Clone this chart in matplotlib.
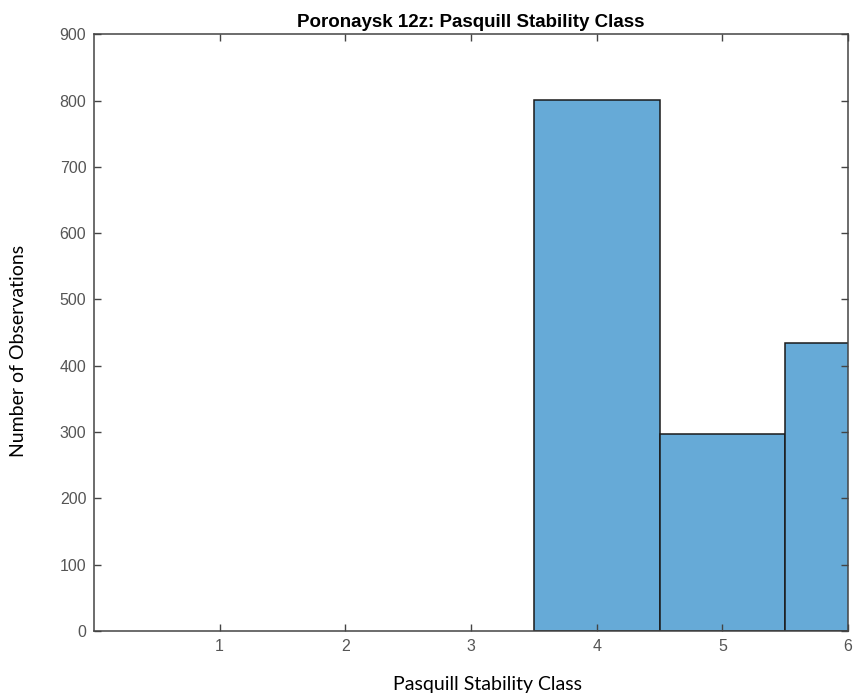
import numpy as np
import matplotlib as mpl
import matplotlib.pyplot as plt

mpl.rcParams.update({
    "font.family": ["Liberation Sans", "DejaVu Sans"],
    "xtick.direction": "in",
    "ytick.direction": "in",
    "xtick.top": True,
    "ytick.right": True,
})

# class counts
classes = [1, 2, 3, 4, 5, 6]
counts = [0, 0, 0, 801, 297, 434]
yticks = [0, 100, 200, 300, 400, 500, 600, 700, 800, 900]

fig = plt.figure(figsize=(8.54, 6.98), dpi=100)
ax = fig.add_axes([0.110, 0.096, 0.883, 0.855])

# skip empty classes so no edge line is drawn along the axis
shown = [i for i, c in enumerate(counts) if c > 0]
ax.bar([classes[i] for i in shown], [counts[i] for i in shown], width=1.0,
       color="#66AAD7", edgecolor="#1a1a1a", linewidth=1.1)

ax.set_xlim(0, 6)
ax.set_ylim(0, 900)
ax.set_xticks(classes)
ax.set_yticks(yticks)
ax.tick_params(labelsize=11.5, colors="#444444", labelcolor="#555555", length=5, width=1)
ax.tick_params(axis="x", pad=6)
ax.tick_params(axis="y", pad=5.5)
for s in ax.spines.values():
    s.set_color("#444444")
    s.set_linewidth(1.1)

ax.set_title("Poronaysk 12z: Pasquill Stability Class", fontsize=13.5, fontweight="bold", pad=5.5)
fig.text(0.571, 0.020, "Pasquill Stability Class", ha="center", va="center",
         fontsize=14, family=["Lato", "DejaVu Sans"])
fig.text(0.022, 0.497, "Number of Observations", ha="center", va="center", rotation=90,
         fontsize=14, family=["Lato", "DejaVu Sans"])

fig.savefig("out.png", dpi=100)
